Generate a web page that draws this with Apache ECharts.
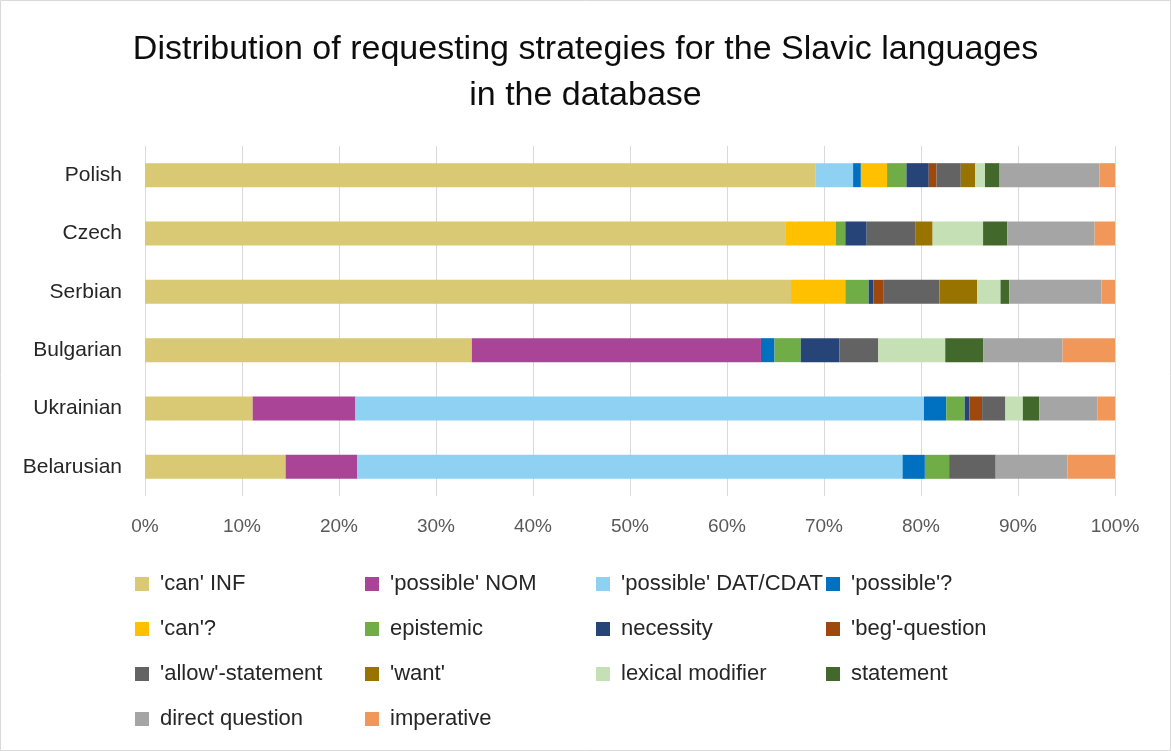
<!DOCTYPE html>
<html><head><meta charset="utf-8">
<script src="https://cdn.jsdelivr.net/npm/echarts@6/dist/echarts.min.js"></script>
<style>html,body{margin:0;padding:0;background:#fff}#c{width:1171px;height:751px}</style>
</head><body><div id="c"></div>
<script>
// categories bottom -> top
const languages = ['Belarusian','Ukrainian','Bulgarian','Serbian','Czech','Polish'];
const seriesNames = ["'can' INF","'possible' NOM","'possible' DAT/CDAT","'possible'?","'can'?","epistemic","necessity","'beg'-question","'allow'-statement","'want'","lexical modifier","statement","direct question","imperative"];
const xTickLabels = ['0%','10%','20%','30%','40%','50%','60%','70%','80%','90%','100%'];
// percentages per language (order: Belarusian, Ukrainian, Bulgarian, Serbian, Czech, Polish)
const canINF      = [14.5, 11.1, 33.7, 66.6, 66.0, 69.1];
const possibleNOM = [7.4, 10.6, 29.8, 0, 0, 0];
const possibleDAT = [56.2, 58.6, 0, 0, 0, 3.9];
const possibleQ   = [2.3, 2.3, 1.4, 0, 0, 0.8];
const canQ        = [0, 0, 0, 5.6, 5.2, 2.7];
const epistemic   = [2.5, 1.9, 2.7, 2.4, 1.0, 2.0];
const necessity   = [0, 0.5, 4.0, 0.5, 2.2, 2.3];
const begQuestion = [0, 1.3, 0, 1.0, 0, 0.8];
const allowStatement = [4.8, 2.4, 4.0, 5.8, 5.0, 2.5];
const want        = [0, 0, 0, 3.9, 1.8, 1.5];
const lexicalModifier = [0, 1.8, 6.9, 2.4, 5.2, 1.0];
const statement   = [0, 1.7, 3.9, 0.9, 2.5, 1.5];
const directQuestion = [7.4, 6.0, 8.2, 9.5, 9.0, 10.3];
const imperative  = [4.9, 1.8, 5.4, 1.4, 2.1, 1.6];
const allValues = [canINF, possibleNOM, possibleDAT, possibleQ, canQ, epistemic, necessity, begQuestion, allowStatement, want, lexicalModifier, statement, directQuestion, imperative];
const colors = ['#D9C874','#A94496','#8FD1F3','#0070C0','#FFC000','#70AD47','#264478','#9E480E','#636363','#997300','#C5E0B4','#43682B','#A5A5A5','#F1975A'];

const totals = languages.map((_, i) => allValues.reduce((s, a) => s + a[i], 0));
const FONT = 'Liberation Sans';
const legendCols = [135, 365, 596, 826];
const legends = legendCols.map((x, c) => ({
  orient: 'vertical', left: x, top: 572, padding: 0,
  data: seriesNames.filter((_, k) => k % 4 === c),
  itemWidth: 14, itemHeight: 14, itemGap: 21, icon: 'rect',
  textStyle: {fontSize: 22, color: '#262626', lineHeight: 24, padding: [0, 0, 0, 6], fontFamily: FONT}
}));
const chart = echarts.init(document.getElementById('c'));
chart.setOption({
  animation: false,
  textStyle: {fontFamily: FONT},
  color: colors,
  title: {
    text: 'Distribution of requesting strategies for the Slavic languages\nin the database',
    left: 'center', top: 22,
    textStyle: {fontFamily: FONT, fontSize: 34, fontWeight: 'normal', color: '#0d0d0d', lineHeight: 46}
  },
  graphic: [{type: 'rect', shape: {x: 0.5, y: 0.5, width: 1170, height: 750}, style: {fill: 'none', stroke: '#d9d9d9', lineWidth: 1}, silent: true}],
  grid: {left: 145, right: 56, top: 146, bottom: 255, containLabel: false},
  xAxis: {
    type: 'value', min: 0, max: 100, interval: 10,
    axisLine: {show: false}, axisTick: {show: false},
    splitLine: {lineStyle: {color: '#d9d9d9', width: 1}},
    axisLabel: {formatter: v => xTickLabels[Math.round(v / 10)], color: '#595959', fontSize: 19, margin: 21, fontFamily: FONT}
  },
  yAxis: {
    type: 'category', data: languages,
    axisLine: {show: false}, axisTick: {show: false},
    axisLabel: {color: '#262626', fontSize: 21, margin: 23, fontFamily: FONT}
  },
  legend: legends,
  series: seriesNames.map((name, k) => ({
    name, type: 'bar', stack: 'total', barWidth: 24,
    data: allValues[k].map((v, i) => v / totals[i] * 100)
  }))
});
</script></body></html>
